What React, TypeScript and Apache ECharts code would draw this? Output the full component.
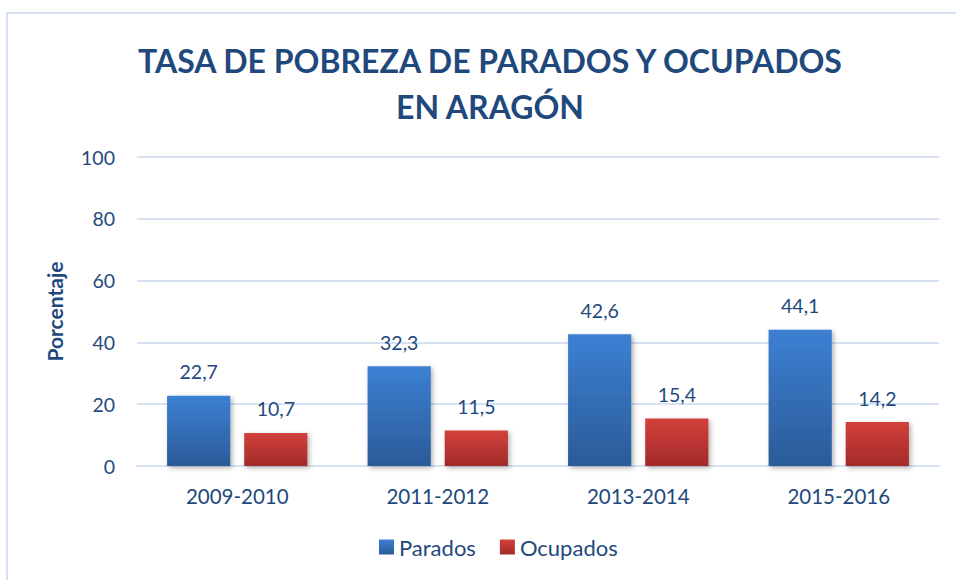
import React, { useEffect, useRef } from "react";
import * as echarts from "echarts";

const categories = ["2009-2010", "2011-2012", "2013-2014", "2015-2016"];
const parados = [22.7, 32.3, 42.6, 44.1];
const ocupados = [10.7, 11.5, 15.4, 14.2];
const titleLines = ["TASA DE POBREZA DE PARADOS Y OCUPADOS", "EN ARAGÓN"];

const FONT = "Lato";
const TEXT = "#1f497d";

export default function App() {
  const ref = useRef<HTMLDivElement>(null);
  useEffect(() => {
    if (!ref.current) return;
    const chart = echarts.init(ref.current, null, { renderer: "svg" });
    const fmt = (p: any) => String(p.value).replace(".", ",");
    const blue = new echarts.graphic.LinearGradient(0, 0, 0, 1, [
      { offset: 0, color: "#3c80d3" },
      { offset: 1, color: "#2b5b98" },
    ]);
    const red = new echarts.graphic.LinearGradient(0, 0, 0, 1, [
      { offset: 0, color: "#d4403b" },
      { offset: 1, color: "#a12b28" },
    ]);
    const label = {
      show: true,
      position: "top",
      distance: 14,
      formatter: fmt,
      color: TEXT,
      fontFamily: FONT,
      fontSize: 19.5,
    };
    chart.setOption({
      animation: false,
      backgroundColor: "#ffffff",
      title: {
        text: titleLines.join("\n"),
        left: 485,
        textAlign: "center",
        top: 32,
        textStyle: {
          fontFamily: FONT,
          fontWeight: "bold",
          fontSize: 32,
          color: TEXT,
          lineHeight: 46,
        },
      },
      graphic: [
        {
          type: "rect",
          shape: { x: 7, y: 13, width: 1000, height: 700 },
          style: { fill: "none", stroke: "#d6e2f3", lineWidth: 2 },
          silent: true,
          z: -1,
        },
      ],
      legend: {
        bottom: 17,
        left: 374,
        itemWidth: 15,
        itemHeight: 15,
        itemGap: 24,
        icon: "rect",
        textStyle: { fontFamily: FONT, fontSize: 22, color: TEXT },
        data: ["Parados", "Ocupados"],
      },
      grid: { left: 137, right: 17, top: 157, bottom: 114 },
      xAxis: {
        type: "category",
        data: categories,
        axisLine: { show: true, lineStyle: { color: "#d6e2f3", width: 2 } },
        axisTick: { show: false },
        axisLabel: { fontFamily: FONT, fontSize: 20.5, color: TEXT, margin: 19 },
      },
      yAxis: {
        type: "value",
        min: 0,
        max: 100,
        interval: 20,
        name: "Porcentaje",
        nameLocation: "middle",
        nameGap: 72,
        nameTextStyle: { fontFamily: FONT, fontWeight: "bold", fontSize: 21, color: TEXT },
        axisLine: { show: false },
        axisTick: { show: false },
        axisLabel: { fontFamily: FONT, fontSize: 19.5, color: TEXT, margin: 22 },
        splitLine: { lineStyle: { color: "#d6e2f3", width: 2 } },
      },
      series: [
        {
          name: "Parados",
          type: "bar",
          data: parados,
          barGap: "22%",
          barCategoryGap: "30%",
          itemStyle: {
            color: blue,
            shadowBlur: 5,
            shadowColor: "rgba(0,0,0,0.3)",
            shadowOffsetX: 2,
            shadowOffsetY: 2,
          },
          label,
        },
        {
          name: "Ocupados",
          type: "bar",
          data: ocupados,
          itemStyle: {
            color: red,
            shadowBlur: 5,
            shadowColor: "rgba(0,0,0,0.3)",
            shadowOffsetX: 2,
            shadowOffsetY: 2,
          },
          label,
        },
      ],
    });
    return () => chart.dispose();
  }, []);
  return (
    <div
      ref={ref}
      style={{ position: "absolute", left: 0, top: 0, width: 956, height: 580 }}
    />
  );
}
